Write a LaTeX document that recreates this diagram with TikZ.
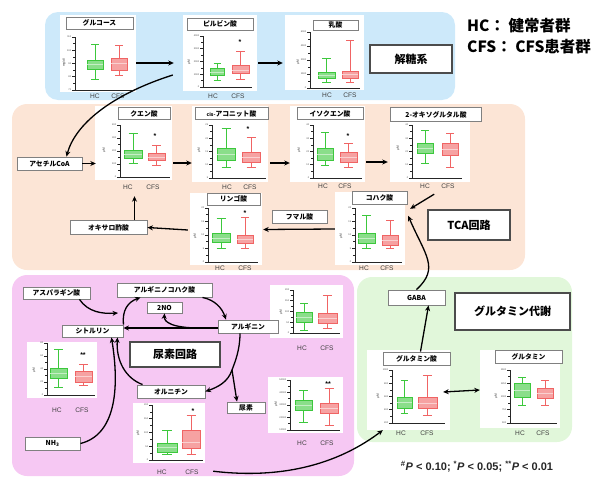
\documentclass[tikz,border=0pt]{standalone}
\usepackage{fontspec}
\setmainfont{Noto Sans CJK JP}
\newfontfamily\lat{Liberation Sans}
\usetikzlibrary{arrows.meta,fit}
\definecolor{bluR}{RGB}{205,233,250}
\definecolor{pchR}{RGB}{252,229,214}
\definecolor{pnkR}{RGB}{246,200,243}
\definecolor{grnR}{RGB}{225,247,218}
\definecolor{hcg}{RGB}{60,200,60}
\definecolor{cfsr}{RGB}{240,100,100}
\newcommand\axs[5]{%
  \draw[axl] (#1,#2) -- (#1,#3) -- (#4,#3);
  \foreach \l [count=\i from 0] in {#5}{%
    \pgfmathsetmacro\yy{#2+(#3-#2)*\i/4}%
    \draw[axl] (#1,\yy) -- ++(-3,0);
    \node[tick] (tk#1x\i) at (#1-3.5,\yy) {\l};
  }%
  \foreach \j in {1,3,5,7}{%
    \pgfmathsetmacro\yy{#2+(#3-#2)*\j/8}%
    \draw[axl, line width=0.6pt] (#1,\yy) -- ++(-2,0);
  }%
}
\newcommand\bxp[8]{%
  \pgfmathsetmacro\cx{(#1+#2)/2}%
  \pgfmathsetmacro\cw{(#2-#1)*0.25}%
  \draw[#8, line width=0.9pt] (\cx,#3) -- (\cx,#4) (\cx,#6) -- (\cx,#7)
     (\cx-\cw,#3) -- (\cx+\cw,#3) (\cx-\cw,#7) -- (\cx+\cw,#7);
  \draw[#8, line width=0.9pt, fill=#8!60] (#1,#4) rectangle (#2,#6);
  \draw[#8!30, line width=0.6pt] (#1,#5) -- (#2,#5);
}
\begin{document}
\begin{tikzpicture}[x=1pt,y=-1pt,
  axl/.style={black!85, line width=1pt},
  tick/.style={font=\lat\fontsize{2.4}{3}\selectfont, anchor=east, inner sep=0.2pt, text=black!70},
  pbg/.style={fill=white, inner sep=0pt},
  ttl/.style={draw=black!50, line width=0.9pt, fill=white, inner sep=0pt, minimum height=12pt, font=\bfseries\fontsize{6.8}{7}\selectfont},
  big/.style={draw=black!70, line width=1.4pt, fill=white, inner sep=0pt, font=\bfseries\fontsize{11}{12}\selectfont},
  grp/.style={font=\lat\fontsize{6.6}{7}\selectfont, text=black!75, inner sep=0pt},
  yl/.style={font=\lat\fontsize{3.2}{4}\selectfont, rotate=90, inner sep=0pt, text=black!80},
  star/.style={font=\lat\bfseries\fontsize{7}{6}\selectfont, inner sep=0pt},
  arr/.style={-{Stealth[length=5.5pt,width=5pt]}, line width=1.3pt, black}]
\useasboundingbox (0,0) rectangle (595,479);
% regions
\fill[bluR, rounded corners=13pt] (45,12) rectangle (455,100);
\fill[pchR, rounded corners=15pt] (12,104) rectangle (525,270);
\fill[pnkR, rounded corners=15pt] (12,275) rectangle (354,476);
\fill[grnR, rounded corners=15pt] (357,277) rectangle (572,442);
% legend
\node[anchor=west, inner sep=0pt, font=\bfseries\fontsize{15.5}{16}\selectfont] (leg1) at (467,26) {HC： 健常者群};
\node[anchor=west, inner sep=0pt, font=\bfseries\fontsize{15.5}{16}\selectfont] (leg2) at (467,47) {CFS： CFS患者群};
% ---------------- plots ----------------
% glucose
\node[pbg, fit={(60,15)(136,92)}] (glc) {};
\axs{75}{37}{90}{132}{110,100,90,80,70}
\bxp{87}{103}{44}{60}{64}{69}{79}{hcg}
\bxp{111}{127}{45}{58}{63}{70}{75}{cfsr}
\node[ttl, minimum width=67pt] (glcT) at (99.5,23) {グルコース};
\node[yl] (glcY) at (64,63) {mg/dl};
\node[grp] (glcH) at (95,96) {HC};
\node[grp] (glcC) at (118,96) {CFS};
% pyruvate
\node[pbg, fit={(183,15)(257,91)}] (pyr) {};
\axs{203}{36}{87}{252}{4000,3000,2000,1000,0}
\bxp{210}{224}{63}{68}{72}{75}{80}{hcg}
\bxp{232}{249}{51}{65}{70}{73}{79}{cfsr}
\node[ttl, minimum width=66pt] (pyrT) at (220,24) {ピルビン酸};
\node[star] (pyrS) at (240,42) {*};
\node[yl] (pyrY) at (189,62) {μM};
\node[grp] (pyrH) at (213,96) {HC};
\node[grp] (pyrC) at (238,96) {CFS};
% lactate
\node[pbg, fit={(285,15)(364,90)}] (lac) {};
\axs{310}{32}{88}{360}{6000,4500,3000,1500,0}
\bxp{318}{335}{58}{72}{75}{78}{82}{hcg}
\bxp{342}{358}{40}{71}{74}{78}{82}{cfsr}
\node[ttl, minimum width=45pt, minimum height=10pt] (lacT) at (335.5,25) {乳酸};
\node[yl] (lacY) at (298,62) {μM};
\node[grp] (lacH) at (327,95) {HC};
\node[grp] (lacC) at (350,95) {CFS};
% citrate
\node[pbg, fit={(95,106)(172,180)}] (cit) {};
\axs{120}{125}{177}{170}{400,300,200,100,0}
\bxp{124}{142}{133}{150}{154}{158}{163}{hcg}
\bxp{148}{165}{145}{153}{157}{160}{165}{cfsr}
\node[ttl, minimum width=52pt] (citT) at (144,113.5) {クエン酸};
\node[star] (citS) at (155,136) {*};
\node[yl] (citY) at (104,150) {μM};
\node[grp] (citH) at (128,187) {HC};
\node[grp] (citC) at (153,187) {CFS};
% cis-aconitate
\node[pbg, fit={(192,106)(268,182)}] (cis) {};
\axs{212}{125}{178}{266}{25,20,15,10,5}
\bxp{217}{235}{128}{148}{154}{160}{167}{hcg}
\bxp{242}{260}{137}{152}{157}{162}{167}{cfsr}
\node[ttl, minimum width=73pt] (cisT) at (231.5,113.5) {{\fontsize{5}{6}\selectfont cis-}アコニット酸};
\node[star] (cisS) at (248,129) {*};
\node[yl] (cisY) at (199,150) {μM};
\node[grp] (cisH) at (227,187) {HC};
\node[grp] (cisC) at (250,187) {CFS};
% isocitrate
\node[pbg, fit={(290,106)(365,182)}] (iso) {};
\axs{313}{125}{178}{362}{40,30,20,10,0}
\bxp{317}{333}{132}{148}{154}{160}{165}{hcg}
\bxp{340}{357}{143}{152}{157}{162}{167}{cfsr}
\node[ttl, minimum width=66pt] (isoT) at (330,113.5) {イソクエン酸};
\node[star] (isoS) at (348,136) {*};
\node[yl] (isoY) at (299,150) {μM};
\node[grp] (isoH) at (323,186) {HC};
\node[grp] (isoC) at (345,186) {CFS};
% 2-oxoglutarate
\node[pbg, fit={(390,108)(470,182)}] (og) {};
\axs{412}{125}{178}{462}{40,30,20,10,0}
\bxp{417}{433}{130}{143}{148}{153}{163}{hcg}
\bxp{442}{458}{133}{143}{149}{155}{167}{cfsr}
\node[ttl, minimum width=91pt, minimum height=14pt] (ogT) at (436,114.5) {2-オキソグルタル酸};
\node[yl] (ogY) at (398,148) {μM};
\node[grp] (ogH) at (425,186) {HC};
\node[grp] (ogC) at (448,186) {CFS};
% succinate
\node[pbg, fit={(335,192)(405,265)}] (suc) {};
\axs{355}{208}{262}{402}{20,15,10,5,0}
\bxp{358}{375}{215}{233}{238}{243}{248}{hcg}
\bxp{382}{398}{220}{235}{240}{245}{248}{cfsr}
\node[ttl, minimum width=55pt, minimum height=13pt] (sucT) at (379.5,197.5) {コハク酸};
\node[yl] (sucY) at (341,236) {μM};
\node[grp] (sucH) at (364,268) {HC};
\node[grp] (sucC) at (387,268) {CFS};
% malate
\node[pbg, fit={(190,193)(262,265)}] (mal) {};
\axs{208}{208}{262}{258}{20,15,10,5,0}
\bxp{212}{230}{218}{233}{238}{242}{248}{hcg}
\bxp{237}{253}{217}{235}{239}{243}{248}{cfsr}
\node[ttl, minimum width=53pt] (malT) at (233.5,199) {リンゴ酸};
\node[star] (malS) at (245,213) {*};
\node[yl] (malY) at (195,236) {μM};
\node[grp] (malH) at (220,268) {HC};
\node[grp] (malC) at (245,268) {CFS};
% arginine plot
\node[pbg, fit={(270,285)(343,338)}] (argP) {};
\axs{293}{290}{333}{340}{200,150,100,50,0}
\bxp{296}{312}{303}{312}{317}{322}{330}{hcg}
\bxp{318}{337}{295}{313}{318}{323}{328}{cfsr}
\node[yl] (argY) at (281,312) {μM};
\node[grp] (argH) at (302,348) {HC};
\node[grp] (argC) at (327,348) {CFS};
% urea plot
\node[pbg, fit={(268,377)(343,433)}] (ureaP) {};
\axs{290}{380}{430}{340}{50000,40000,30000,20000,10000}
\bxp{295}{312}{390}{400}{405}{410}{422}{hcg}
\bxp{320}{338}{388}{403}{408}{413}{425}{cfsr}
\node[star] (ureaS) at (328,384) {**};
\node[yl] (ureaY) at (276,404) {μM};
\node[grp] (ureaH) at (302,443) {HC};
\node[grp] (ureaC) at (327,443) {CFS};
% citrulline plot
\node[pbg, fit={(27,342)(97,398)}] (citP) {};
\axs{47}{343}{395}{95}{80,60,40,20,0}
\bxp{50}{67}{349}{368}{373}{378}{387}{hcg}
\bxp{75}{92}{364}{371}{376}{382}{385}{cfsr}
\node[star] (citPS) at (83,355) {**};
\node[yl] (citPY) at (34,370) {μM};
\node[grp] (citPH) at (57,410) {HC};
\node[grp] (citPC) at (82,410) {CFS};
% ornithine plot
\node[pbg, fit={(133,403)(205,463)}] (ornP) {};
\axs{152}{405}{460}{203}{200,150,100,50,0}
\bxp{157}{177}{430}{443}{447}{452}{454}{hcg}
\bxp{182}{200}{415}{430}{442}{448}{454}{cfsr}
\node[star] (ornS) at (193,411) {*};
\node[yl] (ornY) at (138,433) {μM};
\node[grp] (ornH) at (162,472) {HC};
\node[grp] (ornC) at (192,472) {CFS};
% glutamate
\node[pbg, fit={(367,350)(450,430)}] (glu) {};
\axs{392}{370}{423}{445}{1000,800,600,400,200}
\bxp{397}{412}{380}{397}{402}{408}{413}{hcg}
\bxp{418}{437}{375}{397}{403}{408}{415}{cfsr}
\node[ttl, minimum width=67pt, minimum height=13pt] (gluT) at (416.5,358.5) {グルタミン酸};
\node[yl] (gluY) at (378,396) {μM};
\node[grp] (gluH) at (401,433) {HC};
\node[grp] (gluC) at (427,433) {CFS};
% glutamine
\node[pbg, fit={(480,350)(560,428)}] (gln) {};
\axs{510}{370}{423}{557}{1500,1250,1000,750,500}
\bxp{514}{530}{377}{383}{390}{397}{405}{hcg}
\bxp{537}{553}{380}{388}{393}{398}{405}{cfsr}
\node[ttl, minimum width=67pt, minimum height=13pt] (glnT) at (528.5,356.5) {グルタミン};
\node[yl] (glnY) at (496,396) {μM};
\node[grp] (glnH) at (520,433) {HC};
\node[grp] (glnC) at (543,433) {CFS};
% ---------------- label boxes ----------------
\node[ttl, minimum width=65pt, minimum height=13pt] (acoa) at (49.5,163.5) {アセチルCoA};
\node[ttl, minimum width=77pt, minimum height=14pt] (oaa) at (108.5,227.5) {オキサロ酢酸};
\node[ttl, minimum width=55pt, minimum height=13pt] (fum) at (299.5,216.5) {フマル酸};
\node[ttl, minimum width=67pt, minimum height=12pt] (asp) at (56.5,293) {アスパラギン酸};
\node[ttl, minimum width=95pt, minimum height=14pt] (argsuc) at (164.5,290) {アルギニノコハク酸};
\node[ttl, minimum width=35pt, minimum height=11pt] (no) at (164.5,307.5) {2NO};
\node[ttl, minimum width=61pt, minimum height=12pt] (citL) at (92.5,331) {シトルリン};
\node[ttl, minimum width=60pt, minimum height=13pt] (argL) at (248,326.5) {アルギニン};
\node[ttl, minimum width=68pt, minimum height=13pt] (ornL) at (171,391.5) {オルニチン};
\node[ttl, minimum width=38pt, minimum height=11pt] (ureaL) at (246,407.5) {尿素};
\node[ttl, minimum width=55pt, minimum height=13pt] (nh3) at (52.5,443.5) {NH\textsubscript{3}};
\node[ttl, minimum width=57pt, minimum height=15pt] (gaba) at (416.5,297.5) {GABA};
\node[big, minimum width=82pt, minimum height=28pt] (glyc) at (411,59) {解糖系};
\node[big, minimum width=82pt, minimum height=30pt] (tca) at (469,225) {TCA回路};
\node[big, minimum width=90pt, minimum height=25pt] (urea) at (175,354.5) {尿素回路};
\node[big, minimum width=115pt, minimum height=37pt] (glnm) at (512.5,311.5) {グルタミン代謝};
% ---------------- connectors ----------------
\coordinate (j1) at (200,328);
\coordinate (j2) at (232,370);
\coordinate (j3) at (118,313);
\draw[arr] ([yshift=-9.5pt]glc.east) -- ([xshift=-9pt,yshift=-10pt]pyr.west);
\draw[arr] ([xshift=1pt,yshift=-10pt]pyr.east) -- ([xshift=-2pt,yshift=-10.5pt]lac.west);
\draw[arr] ([xshift=-10pt,yshift=-22pt]pyr.west) .. controls (110,95) and (75,125) .. ([xshift=17pt]acoa.north);
\draw[arr] (acoa.east) -- ([xshift=1pt]acoa.east -| cit.west);
\draw[arr] ([xshift=1pt,yshift=-20pt]cit.east) -- ([yshift=-19pt]cis.west);
\draw[arr] ([xshift=2pt,yshift=-19pt]cis.east) -- ([yshift=-19pt]iso.west);
\draw[arr] ([xshift=1pt,yshift=-18pt]iso.east) -- ([xshift=-2pt,yshift=-17pt]og.west);
\draw[arr] ([xshift=-36pt,yshift=-12pt]og.south east) -- ([xshift=5pt,yshift=-17pt]suc.north east);
\draw[arr] ([yshift=-0.5pt]suc.west) -- ([xshift=1pt,yshift=-0.5pt]mal.east);
\draw[arr] ([xshift=-2pt,yshift=-1pt]mal.west) -- (oaa.east);
\draw[arr] ([xshift=26pt]oaa.north) -- ([xshift=26pt,yshift=-16pt]oaa.north |- cit.south);
\draw[arr] (gaba.north) .. controls (440,268) and (425,255) .. ([xshift=3pt,yshift=-24pt]suc.north east);
\draw[arr] ([xshift=4pt]gluT.north) -- ([xshift=12pt]gaba.south);
\draw[{Stealth[length=5.5pt,width=5pt]}-{Stealth[length=5.5pt,width=5pt]}, line width=1.3pt] ([xshift=-7pt,yshift=-2pt]glu.east) -- ([yshift=-1pt]gln.west);
\draw[arr] ([xshift=8pt,yshift=-8pt]ornP.south east) .. controls (270,478) and (330,470) .. ([xshift=16pt]glu.south west);
% urea cycle
\draw[arr] ([xshift=23pt]asp.south) .. controls (88,312) and (102,314) .. (j3);
\draw[arr] (citL.north east) .. controls (122,310) and (128,302) .. ([xshift=-24pt]argsuc.south);
\draw[arr] ([xshift=38pt]argsuc.south) .. controls (215,300) and (222,308) .. ([xshift=-22pt]argL.north);
\draw[arr] ([yshift=-1.5pt]argL.west) -- ([yshift=-1.5pt]argL.west -| citL.east);
\draw[arr] (j1) .. controls (172,328) and (164,322) .. (no.south);
\draw[line width=1.3pt] ([xshift=-8pt]argL.south) .. controls (240,350) and (235,362) .. (j2);
\draw[arr] (j2) .. controls (228,382) and (218,387) .. (ornL.east);
\draw[arr] (j2) .. controls (234,384) .. ([xshift=-9pt]ureaL.north);
\draw[arr] ([xshift=6pt]ornL.north west) .. controls (125,378) and (116,360) .. ([xshift=-6pt]citL.south east);
\draw[arr] (nh3.east) .. controls (115,435) and (120,390) .. ([xshift=-12pt]citL.south east);
% footnote
\node[inner sep=0pt, font=\lat\bfseries\fontsize{11}{12}\selectfont, text=black!85] (fn) at (477,467)
  {\textsuperscript{\#}\textit{P} < 0.10; \textsuperscript{*}\textit{P} < 0.05; \textsuperscript{**}\textit{P} < 0.01};
\end{tikzpicture}
\end{document}
